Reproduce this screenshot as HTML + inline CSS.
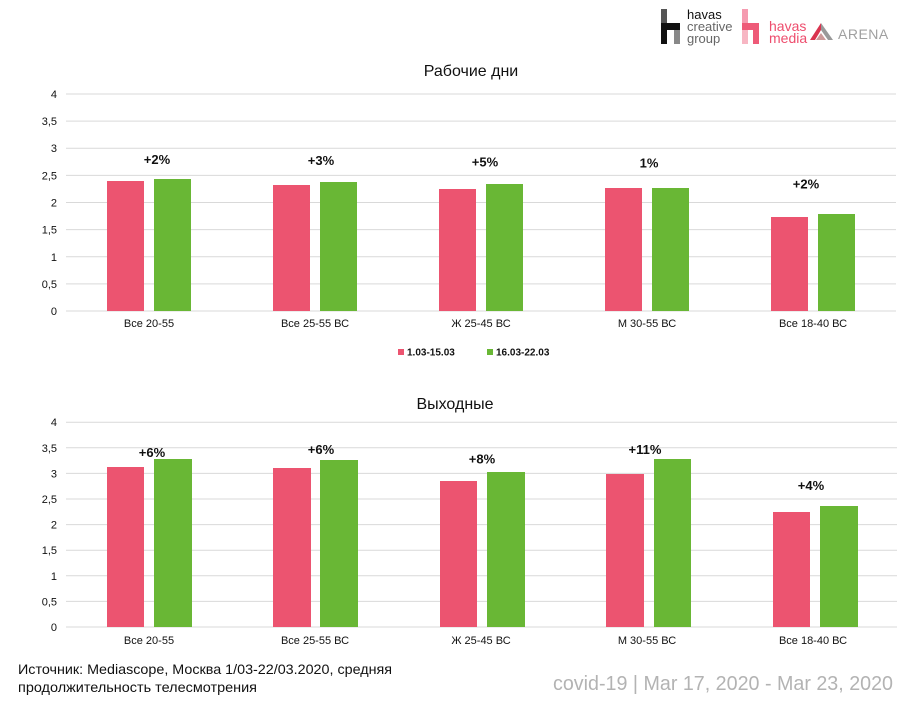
<!DOCTYPE html>
<html>
<head>
<meta charset="utf-8">
<style>
  html,body{margin:0;padding:0;background:#fff;}
  svg{display:block;}
  text{font-family:"Liberation Sans",Arial,sans-serif;}
</style>
</head>
<body>
<svg width="915" height="713" viewBox="0 0 915 713" xmlns="http://www.w3.org/2000/svg">
  <rect width="915" height="713" fill="#fff"/>

  <!-- Logos -->
  <g>
    <rect x="661" y="9" width="6" height="16" fill="#555"/>
    <rect x="661" y="25" width="6" height="19" fill="#111"/>
    <rect x="661" y="23" width="19" height="7" fill="#111"/>
    <rect x="674" y="30" width="6" height="14" fill="#888"/>
    <text x="687" y="19" font-size="13" fill="#111">havas</text>
    <text x="687" y="31" font-size="13" fill="#666">creative</text>
    <text x="687" y="43" font-size="13" fill="#666">group</text>

    <rect x="742" y="9" width="6" height="16" fill="#f59bb0"/>
    <rect x="742" y="25" width="6" height="19" fill="#f7b6c3"/>
    <rect x="742" y="23" width="17" height="7" fill="#ee5a78"/>
    <rect x="753" y="30" width="6" height="14" fill="#ee5a78"/>
    <text x="769" y="31" font-size="14" fill="#ee4d6d">havas</text>
    <text x="769" y="43" font-size="14" fill="#ee4d6d">media</text>

    <polygon points="821,23 810,40 815,40 821,30" fill="#d9344f"/>
    <polygon points="821,23 833,40 828,40 821,30" fill="#999"/>
    <polygon points="816,40 821,33 826,40" fill="#c99"/>
    <text x="838" y="39" font-size="14" fill="#a0a0a0" letter-spacing="0.5">ARENA</text>
  </g>

  <!-- ===== Top chart ===== -->
  <text x="471" y="76" font-size="16" text-anchor="middle" fill="#111">Рабочие дни</text>
  <g stroke="#d9d9d9" stroke-width="1">
    <line x1="66" y1="94" x2="896" y2="94"/>
    <line x1="66" y1="121.1" x2="896" y2="121.1"/>
    <line x1="66" y1="148.3" x2="896" y2="148.3"/>
    <line x1="66" y1="175.4" x2="896" y2="175.4"/>
    <line x1="66" y1="202.5" x2="896" y2="202.5"/>
    <line x1="66" y1="229.6" x2="896" y2="229.6"/>
    <line x1="66" y1="256.8" x2="896" y2="256.8"/>
    <line x1="66" y1="283.9" x2="896" y2="283.9"/>
    <line x1="66" y1="311" x2="896" y2="311"/>
  </g>
  <g font-size="11" fill="#111" text-anchor="end">
    <text x="57" y="98">4</text>
    <text x="57" y="125">3,5</text>
    <text x="57" y="152">3</text>
    <text x="57" y="179.5">2,5</text>
    <text x="57" y="206.5">2</text>
    <text x="57" y="233.5">1,5</text>
    <text x="57" y="261">1</text>
    <text x="57" y="288">0,5</text>
    <text x="57" y="315">0</text>
  </g>
  <g fill="#EC5470">
    <rect x="107" y="181" width="37" height="130"/>
    <rect x="273" y="185" width="37" height="126"/>
    <rect x="439" y="189" width="37" height="122"/>
    <rect x="605" y="188" width="37" height="123"/>
    <rect x="771" y="217" width="37" height="94"/>
  </g>
  <g fill="#69B735">
    <rect x="154" y="179" width="37" height="132"/>
    <rect x="320" y="182" width="37" height="129"/>
    <rect x="486" y="184" width="37" height="127"/>
    <rect x="652" y="188" width="37" height="123"/>
    <rect x="818" y="214" width="37" height="97"/>
  </g>
  <g font-size="13" font-weight="bold" fill="#111" text-anchor="middle">
    <text x="157" y="164">+2%</text>
    <text x="321" y="165">+3%</text>
    <text x="485" y="166.5">+5%</text>
    <text x="649" y="167.5">1%</text>
    <text x="806" y="188.5">+2%</text>
  </g>
  <g font-size="11" fill="#111" text-anchor="middle">
    <text x="149" y="327">Все 20-55</text>
    <text x="315" y="327">Все 25-55 ВС</text>
    <text x="481" y="327">Ж 25-45 ВС</text>
    <text x="647" y="327">М 30-55 ВС</text>
    <text x="813" y="327">Все 18-40 ВС</text>
  </g>
  <!-- Legend -->
  <rect x="398" y="349" width="6" height="6" fill="#EC5470"/>
  <text x="407" y="355.5" font-size="10" font-weight="bold" fill="#111">1.03-15.03</text>
  <rect x="487" y="349" width="6" height="6" fill="#69B735"/>
  <text x="496" y="355.5" font-size="10" font-weight="bold" fill="#111">16.03-22.03</text>

  <!-- ===== Bottom chart ===== -->
  <text x="455" y="409" font-size="16" text-anchor="middle" fill="#111">Выходные</text>
  <g stroke="#d9d9d9" stroke-width="1">
    <line x1="66" y1="422.2" x2="897" y2="422.2"/>
    <line x1="66" y1="447.8" x2="897" y2="447.8"/>
    <line x1="66" y1="473.4" x2="897" y2="473.4"/>
    <line x1="66" y1="499" x2="897" y2="499"/>
    <line x1="66" y1="524.6" x2="897" y2="524.6"/>
    <line x1="66" y1="550.2" x2="897" y2="550.2"/>
    <line x1="66" y1="575.8" x2="897" y2="575.8"/>
    <line x1="66" y1="601.4" x2="897" y2="601.4"/>
    <line x1="66" y1="627" x2="897" y2="627"/>
  </g>
  <g font-size="11" fill="#111" text-anchor="end">
    <text x="57" y="426">4</text>
    <text x="57" y="452">3,5</text>
    <text x="57" y="477.5">3</text>
    <text x="57" y="503">2,5</text>
    <text x="57" y="528.5">2</text>
    <text x="57" y="554">1,5</text>
    <text x="57" y="580">1</text>
    <text x="57" y="605.5">0,5</text>
    <text x="57" y="631">0</text>
  </g>
  <g fill="#EC5470">
    <rect x="107" y="467" width="37" height="160"/>
    <rect x="273" y="468" width="38" height="159"/>
    <rect x="440" y="481" width="37" height="146"/>
    <rect x="606" y="474" width="38" height="153"/>
    <rect x="773" y="512" width="37" height="115"/>
  </g>
  <g fill="#69B735">
    <rect x="154" y="459" width="38" height="168"/>
    <rect x="320" y="460" width="38" height="167"/>
    <rect x="487" y="472" width="38" height="155"/>
    <rect x="654" y="459" width="37" height="168"/>
    <rect x="820" y="506" width="38" height="121"/>
  </g>
  <g font-size="13" font-weight="bold" fill="#111" text-anchor="middle">
    <text x="152" y="457">+6%</text>
    <text x="321" y="454">+6%</text>
    <text x="482" y="463.5">+8%</text>
    <text x="645" y="454">+11%</text>
    <text x="811" y="490">+4%</text>
  </g>
  <g font-size="11" fill="#111" text-anchor="middle">
    <text x="149" y="644">Все 20-55</text>
    <text x="315" y="644">Все 25-55 ВС</text>
    <text x="481" y="644">Ж 25-45 ВС</text>
    <text x="647" y="644">М 30-55 ВС</text>
    <text x="813" y="644">Все 18-40 ВС</text>
  </g>

  <!-- Footer -->
  <text x="18" y="674" font-size="14" fill="#111" textLength="374" lengthAdjust="spacingAndGlyphs">Источник: Mediascope, Москва 1/03-22/03.2020, средняя</text>
  <text x="18" y="692" font-size="14" fill="#111" textLength="239" lengthAdjust="spacingAndGlyphs">продолжительность телесмотрения</text>
  <text x="553" y="690" font-size="20" fill="#b3b3b3" textLength="340" lengthAdjust="spacingAndGlyphs">covid-19 | Mar 17, 2020 - Mar 23, 2020</text>
</svg>
</body>
</html>
